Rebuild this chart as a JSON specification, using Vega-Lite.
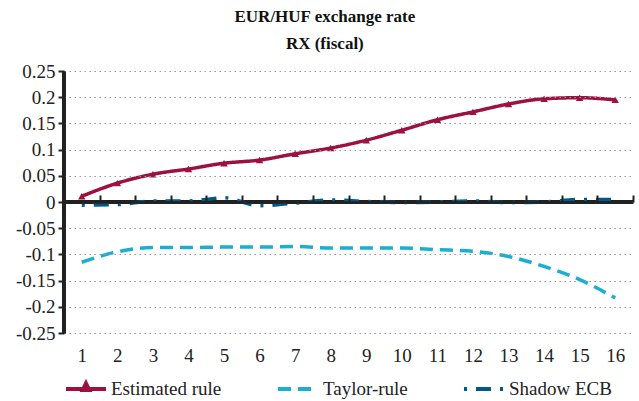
{
  "$schema": "https://vega.github.io/schema/vega-lite/v6.json",
  "width": 569,
  "height": 262,
  "padding": {"left": 15, "right": 3, "top": 8, "bottom": 5},
  "background": "white",
  "title": {
    "text": "EUR/HUF exchange rate",
    "subtitle": "RX (fiscal)",
    "font": "Times New Roman",
    "fontSize": 17,
    "fontWeight": "bold",
    "subtitleFont": "Times New Roman",
    "subtitleFontSize": 17,
    "subtitleFontWeight": "bold",
    "subtitleColor": "#111",
    "color": "#111",
    "subtitlePadding": 10,
    "anchor": "middle",
    "frame": "bounds",
    "offset": 9
  },
  "config": {
    "view": {"stroke": null},
    "font": "Times New Roman",
    "title": {"font": "Times New Roman", "subtitleFont": "Times New Roman"},
    "axis": {"labelFont": "Times New Roman", "labelFontSize": 19, "labelColor": "#222", "labelOverlap": false},
    "legend": {"labelFont": "Times New Roman", "labelFontSize": 19, "labelColor": "#222"}
  },
  "data": {
    "values": [
      {"t": 1, "series": "Estimated rule", "v": 0.011},
      {"t": 2, "series": "Estimated rule", "v": 0.036},
      {"t": 3, "series": "Estimated rule", "v": 0.053},
      {"t": 4, "series": "Estimated rule", "v": 0.063},
      {"t": 5, "series": "Estimated rule", "v": 0.074},
      {"t": 6, "series": "Estimated rule", "v": 0.080},
      {"t": 7, "series": "Estimated rule", "v": 0.092},
      {"t": 8, "series": "Estimated rule", "v": 0.103},
      {"t": 9, "series": "Estimated rule", "v": 0.118},
      {"t": 10, "series": "Estimated rule", "v": 0.137},
      {"t": 11, "series": "Estimated rule", "v": 0.157},
      {"t": 12, "series": "Estimated rule", "v": 0.172},
      {"t": 13, "series": "Estimated rule", "v": 0.187},
      {"t": 14, "series": "Estimated rule", "v": 0.197},
      {"t": 15, "series": "Estimated rule", "v": 0.199},
      {"t": 16, "series": "Estimated rule", "v": 0.195},
      {"t": 1, "series": "Taylor-rule", "v": -0.115},
      {"t": 2, "series": "Taylor-rule", "v": -0.095},
      {"t": 3, "series": "Taylor-rule", "v": -0.087},
      {"t": 4, "series": "Taylor-rule", "v": -0.087},
      {"t": 5, "series": "Taylor-rule", "v": -0.086},
      {"t": 6, "series": "Taylor-rule", "v": -0.086},
      {"t": 7, "series": "Taylor-rule", "v": -0.085},
      {"t": 8, "series": "Taylor-rule", "v": -0.088},
      {"t": 9, "series": "Taylor-rule", "v": -0.088},
      {"t": 10, "series": "Taylor-rule", "v": -0.088},
      {"t": 11, "series": "Taylor-rule", "v": -0.091},
      {"t": 12, "series": "Taylor-rule", "v": -0.094},
      {"t": 13, "series": "Taylor-rule", "v": -0.104},
      {"t": 14, "series": "Taylor-rule", "v": -0.123},
      {"t": 15, "series": "Taylor-rule", "v": -0.148},
      {"t": 16, "series": "Taylor-rule", "v": -0.183},
      {"t": 1, "series": "Shadow ECB", "v": -0.006},
      {"t": 2, "series": "Shadow ECB", "v": -0.005},
      {"t": 3, "series": "Shadow ECB", "v": 0.002},
      {"t": 4, "series": "Shadow ECB", "v": 0.002},
      {"t": 5, "series": "Shadow ECB", "v": 0.008},
      {"t": 6, "series": "Shadow ECB", "v": -0.007},
      {"t": 7, "series": "Shadow ECB", "v": -0.002},
      {"t": 8, "series": "Shadow ECB", "v": 0.004},
      {"t": 9, "series": "Shadow ECB", "v": 0.001},
      {"t": 10, "series": "Shadow ECB", "v": -0.001},
      {"t": 11, "series": "Shadow ECB", "v": 0.000},
      {"t": 12, "series": "Shadow ECB", "v": 0.002},
      {"t": 13, "series": "Shadow ECB", "v": -0.001},
      {"t": 14, "series": "Shadow ECB", "v": 0.000},
      {"t": 15, "series": "Shadow ECB", "v": 0.005},
      {"t": 16, "series": "Shadow ECB", "v": 0.005}
    ]
  },
  "resolve": {"axis": {"x": "independent"}},
  "layer": [
    {
      "mark": {"type": "rule", "color": "#222", "strokeWidth": 2.5},
      "encoding": {"y": {"datum": 0, "type": "quantitative", "scale": {"domain": [-0.25, 0.25], "nice": false}, "axis": {
            "title": null,
            "values": [-0.25,-0.2,-0.15,-0.1,-0.05,0,0.05,0.1,0.15,0.2,0.25],
            "labelExpr": "replace(format(datum.value, '.2~f'), '−', '-')",
            "labelFlush": false, "labelFont": "Times New Roman", "labelFontSize": 19,
            "domain": true, "domainColor": "#222", "domainWidth": 2.5,
            "ticks": true, "tickColor": "#222", "tickWidth": 2, "tickSize": 6,
            "labelPadding": 3, "zindex": 1,
            "grid": true, "gridColor": "#999", "gridDash": [1.5, 3.5], "gridWidth": 1
          }}}
    },
    {
      "mark": {"type": "rule", "color": "#222", "strokeWidth": 2.5},
      "encoding": {"x": {"datum": 0.5, "type": "quantitative", "scale": {"domain": [0.5, 16.5], "nice": false, "zero": false}, "axis": null}}
    },
    {
      "mark": {"type": "line", "interpolate": "monotone", "strokeWidth": 3.5},
      "encoding": {
        "x": {
          "field": "t", "type": "quantitative",
          "scale": {"domain": [0.5, 16.5], "nice": false, "zero": false},
          "axis": {
            "title": null, "values": [1,2,3,4,5,6,7,8,9,10,11,12,13,14,15,16],
            "domain": false, "ticks": false, "grid": false,
            "labelPadding": 13, "labelFlush": false, "labelFont": "Times New Roman", "labelFontSize": 19
          }
        },
        "y": {
          "field": "v", "type": "quantitative",
          "axis": {
            "title": null,
            "values": [-0.25,-0.2,-0.15,-0.1,-0.05,0,0.05,0.1,0.15,0.2,0.25],
            "labelExpr": "replace(format(datum.value, '.2~f'), '−', '-')",
            "labelFlush": false, "labelFont": "Times New Roman", "labelFontSize": 19,
            "domain": true, "domainColor": "#222", "domainWidth": 2.5,
            "ticks": true, "tickColor": "#222", "tickWidth": 2, "tickSize": 6,
            "labelPadding": 3, "zindex": 1,
            "grid": true, "gridColor": "#999", "gridDash": [1.5, 3.5], "gridWidth": 1
          }
        },
        "color": {
          "field": "series", "type": "nominal",
          "scale": {"domain": ["Estimated rule", "Taylor-rule", "Shadow ECB"], "range": ["#9c1140", "#1aaed0", "#005a88"]},
          "legend": {
            "title": null, "orient": "bottom", "direction": "horizontal",
            "symbolType": "stroke", "symbolSize": 1600, "symbolStrokeWidth": 4,
            "labelFont": "Times New Roman", "labelFontSize": 19,
            "columnPadding": 48, "labelOffset": 3, "offset": 2,
            "encode": {
              "symbols": {
                "update": {
                  "shape": {"signal": "datum.label === 'Estimated rule' ? 'M-1,0L1,0M-0.16,0.05L0,-0.28L0.16,0.05Z' : 'stroke'"},
                  "fill": {"signal": "datum.label === 'Estimated rule' ? '#9c1140' : 'transparent'"}
                }
              }
            }
          }
        },
        "strokeDash": {
          "field": "series", "type": "nominal",
          "scale": {"domain": ["Estimated rule", "Taylor-rule", "Shadow ECB"], "range": [[1, 0], [13, 7], [3, 9, 15, 9]]},
          "legend": null
        }
      }
    },
    {
      "transform": [{"filter": "datum.series === 'Estimated rule'"}],
      "mark": {"type": "point", "shape": "triangle-up", "filled": true, "size": 55, "opacity": 1, "color": "#9c1140"},
      "encoding": {
        "x": {
          "field": "t", "type": "quantitative",
          "axis": {
            "title": null, "values": [0.5,1.5,2.5,3.5,4.5,5.5,6.5,7.5,8.5,9.5,10.5,11.5,12.5,13.5,14.5,15.5,16.5],
            "labels": false, "grid": false, "offset": -131, "zindex": 1,
            "domain": true, "domainColor": "#222", "domainWidth": 2.5,
            "ticks": true, "tickColor": "#222", "tickWidth": 2, "tickSize": 7
          }
        },
        "y": {
          "field": "v", "type": "quantitative",
          "axis": {
            "title": null,
            "values": [-0.25,-0.2,-0.15,-0.1,-0.05,0,0.05,0.1,0.15,0.2,0.25],
            "labelExpr": "replace(format(datum.value, '.2~f'), '−', '-')",
            "labelFlush": false, "labelFont": "Times New Roman", "labelFontSize": 19,
            "domain": true, "domainColor": "#222", "domainWidth": 2.5,
            "ticks": true, "tickColor": "#222", "tickWidth": 2, "tickSize": 6,
            "labelPadding": 3, "zindex": 1,
            "grid": true, "gridColor": "#999", "gridDash": [1.5, 3.5], "gridWidth": 1
          }
        }
      }
    }
  ]
}
